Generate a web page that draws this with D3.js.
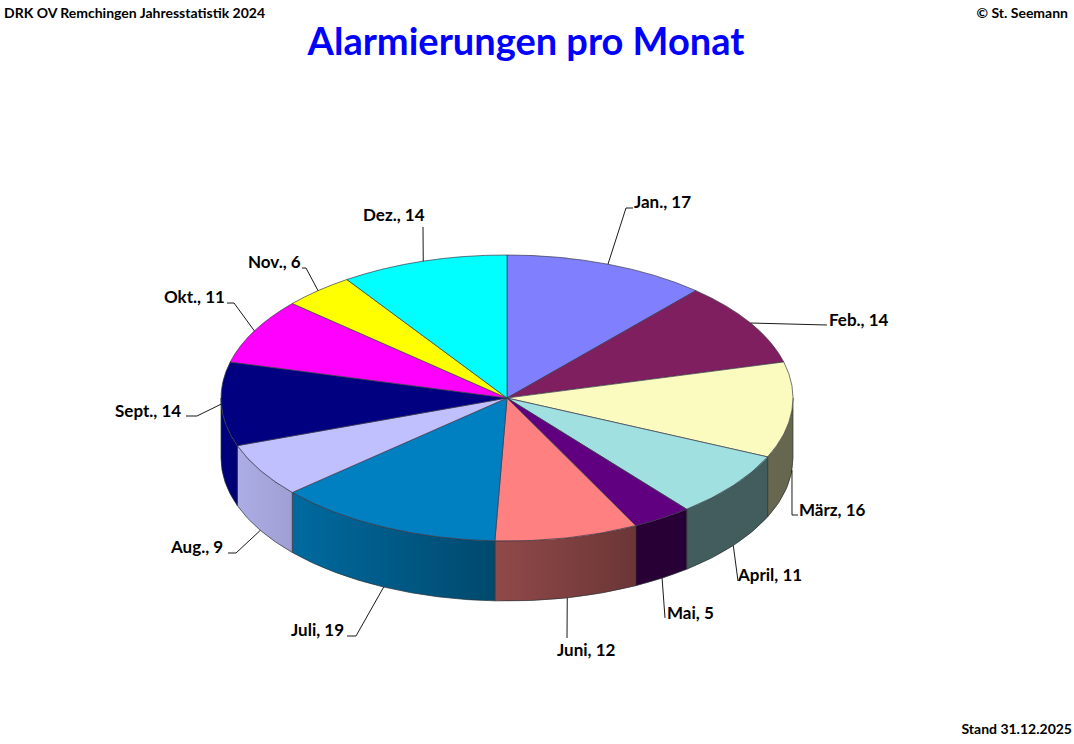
<!DOCTYPE html>
<html><head><meta charset="utf-8">
<script src="https://cdn.jsdelivr.net/npm/d3@7/dist/d3.min.js"></script>
<style>html,body{margin:0;padding:0;background:#fff}svg{display:block}text{font-family:Lato,"Noto Sans",sans-serif;font-weight:700;fill:#000}</style>
</head><body><svg id="c" width="1074" height="744"></svg>
<script>
const months=["Jan.","Feb.","März","April","Mai","Juni","Juli","Aug.","Sept.","Okt.","Nov.","Dez."];
const counts=[17,14,16,11,5,12,19,9,14,11,6,14];
const colors=["#8080FF","#7F1F5F","#FBFBC0","#A0E0E0","#600080","#FF8080","#0080C0","#C0C0FF","#000080","#FF00FF","#FFFF00","#00FFFF"];
// label anchor x,y (text), leader elbow x,y, leader end x, whether leader starts on lower edge
const labelX=[634,829,799,738,667,557,291,171,115,164,248,363];
const labelY=[208,326,516,581,619,656,636,553,417,303,268,221];
const elbowX=[626,827,792,738,665,567,356,236,197,234,306,423];
const elbowY=[208,325,515,581,618,638,636,553,416,303,268,227];
const tailX=[633,827,798,738,665,567,347,228,186,227,302,423];
const lowerEdge=[0,0,1,1,1,1,1,1,0,0,0,0];

const cx=507,cy=398,rx=286,ry=143,depth=60;
const svg=d3.select("#c");
const pie=d3.pie().value(d=>d).sort(null)(counts);
const arc=d3.arc().innerRadius(0).outerRadius(rx);
const ex=a=>cx+rx*Math.sin(a), ey=a=>cy-ry*Math.cos(a);

// side shading depends on horizontal position
const shadeX=[221,237,292,495,636,793];
const shadeK=[1,0.9,0.83,0.57,0.42,0.41];
const shade=d3.scaleLinear().domain(shadeX).range(shadeK);
const defs=svg.append("defs");
pie.forEach((p,i)=>{
  const g=defs.append("linearGradient").attr("id","w"+i).attr("gradientUnits","userSpaceOnUse")
    .attr("x1",cx-rx).attr("x2",cx+rx).attr("y1",0).attr("y2",0);
  const c=d3.rgb(colors[i]);
  shadeX.forEach(x=>{
    const k=shade(x);
    g.append("stop").attr("offset",(x-(cx-rx))/(2*rx))
     .attr("stop-color",d3.rgb(c.r*k,c.g*k,c.b*k).formatHex());
  });
});

// walls (front half only)
const walls=svg.append("g");
pie.forEach((p,i)=>{
  const a0=Math.max(p.startAngle,Math.PI/2), a1=Math.min(p.endAngle,3*Math.PI/2);
  if(a1<=a0) return;
  const large=a1-a0>Math.PI?1:0;
  walls.append("path")
   .attr("d",`M${ex(a0)},${ey(a0)}A${rx},${ry} 0 ${large} 1 ${ex(a1)},${ey(a1)}L${ex(a1)},${ey(a1)+depth}A${rx},${ry} 0 ${large} 0 ${ex(a0)},${ey(a0)+depth}Z`)
   .attr("fill",`url(#w${i})`).attr("stroke","#2a3438").attr("stroke-width",0.7);
});

// top surface
svg.append("g").attr("transform",`translate(${cx},${cy}) scale(1,${ry/rx})`)
 .selectAll("path").data(pie).join("path")
 .attr("d",arc).attr("fill",(d,i)=>colors[i])
 .attr("stroke","#3a3a4a").attr("stroke-width",0.7).attr("vector-effect","non-scaling-stroke");

// leaders
const leaders=svg.append("g").attr("fill","none").attr("stroke","#000").attr("stroke-width",0.9);
pie.forEach((p,i)=>{
  const m=(p.startAngle+p.endAngle)/2;
  const x=ex(m),y=ey(m)+(lowerEdge[i]?depth:0);
  const sy=i===2?y+60:y;
  leaders.append("path").attr("d",d3.line()([[x,i===2?ey(m)+depth:y],[elbowX[i],elbowY[i]],[tailX[i],elbowY[i]]]));
});

// labels
svg.append("g").selectAll("text").data(months).join("text")
 .attr("x",(d,i)=>labelX[i]).attr("y",(d,i)=>labelY[i]).attr("font-size",17)
 .text((d,i)=>`${d}, ${counts[i]}`);

svg.append("text").attr("x",4).attr("y",18).attr("font-size",14).text("DRK OV Remchingen Jahresstatistik 2024");
svg.append("text").attr("x",1068).attr("y",18).attr("font-size",14).attr("text-anchor","end").text("© St. Seemann");
svg.append("text").attr("x",1072).attr("y",734).attr("font-size",14).attr("text-anchor","end").text("Stand 31.12.2025");
svg.append("text").attr("x",526).attr("y",55).attr("font-size",38).attr("text-anchor","middle").style("fill","#0000FF").text("Alarmierungen pro Monat");
</script></body></html>
